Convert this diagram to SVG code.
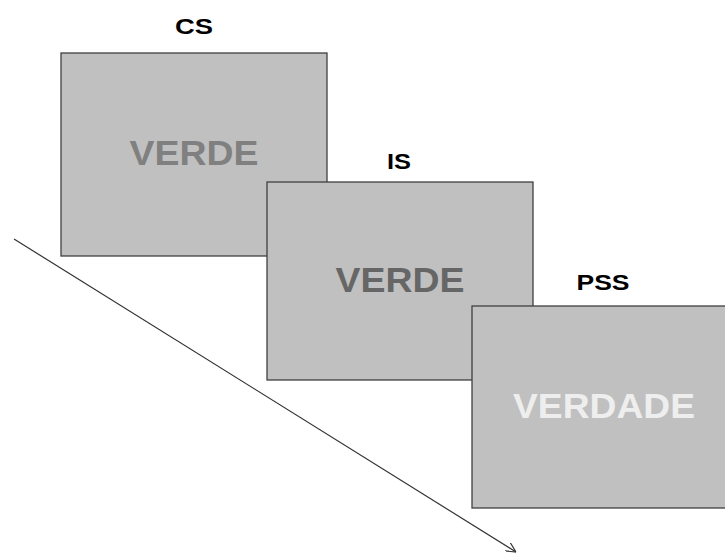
<svg xmlns="http://www.w3.org/2000/svg" width="725" height="554" viewBox="0 0 725 554">
<style>
.box{fill:#c0c0c0;stroke:#404040;stroke-width:1.3}
.lbl{font-family:"Liberation Sans",Arial,sans-serif;font-weight:bold;font-size:22px;fill:#000;text-anchor:middle}
.word{font-family:"Liberation Sans",Arial,sans-serif;font-weight:bold;font-size:35px;text-anchor:middle}
</style>
<defs>
<marker id="ah" viewBox="0 0 10 10" refX="10" refY="5" markerWidth="10" markerHeight="10" markerUnits="userSpaceOnUse" orient="auto">
<path d="M0,0 L10,5 L0,10" fill="none" stroke="#333" stroke-width="1.2"/>
</marker>
</defs>
<rect width="725" height="554" fill="#fff"/>
<g id="connectors">
<line x1="14" y1="239" x2="516" y2="552" stroke="#333" stroke-width="1.2" marker-end="url(#ah)"/>
</g>
<g id="cs">
<text class="lbl" x="194" y="34" textLength="38" lengthAdjust="spacingAndGlyphs">CS</text>
<rect class="box" x="61" y="53" width="266" height="203"/>
<text class="word" x="194" y="165" fill="#808080" textLength="129" lengthAdjust="spacingAndGlyphs">VERDE</text>
</g>
<g id="is">
<text class="lbl" x="399" y="169" textLength="24" lengthAdjust="spacingAndGlyphs">IS</text>
<rect class="box" x="267" y="182" width="266" height="198"/>
<text class="word" x="400" y="292" fill="#666666" textLength="129" lengthAdjust="spacingAndGlyphs">VERDE</text>
</g>
<g id="pss">
<text class="lbl" x="603" y="290" textLength="53" lengthAdjust="spacingAndGlyphs">PSS</text>
<rect class="box" x="472" y="306" width="260" height="202"/>
<text class="word" x="604" y="418" fill="#eeeeee" textLength="182" lengthAdjust="spacingAndGlyphs">VERDADE</text>
</g>
</svg>
